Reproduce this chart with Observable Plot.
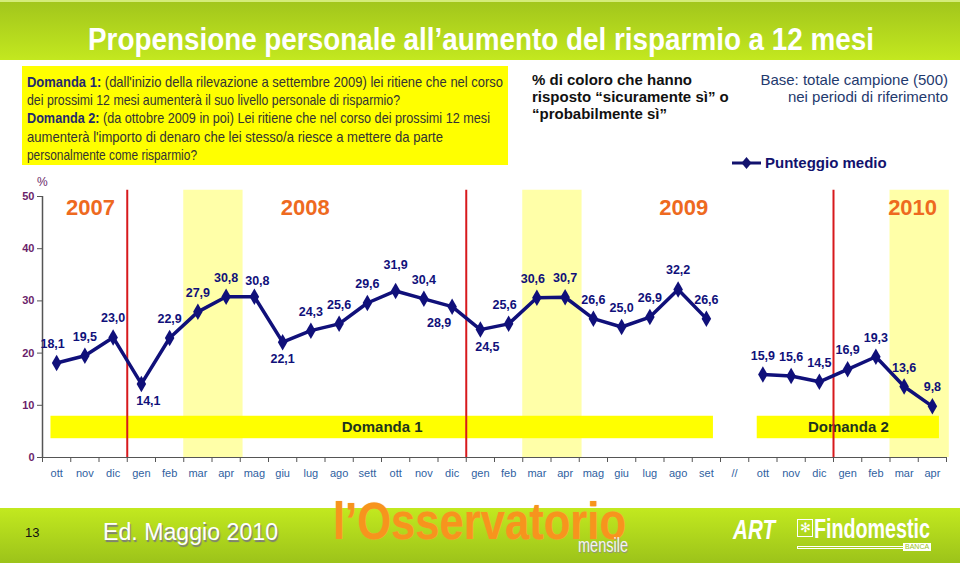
<!DOCTYPE html>
<html><head><meta charset="utf-8">
<script src="https://cdn.jsdelivr.net/npm/d3@7"></script>
<script src="https://cdn.jsdelivr.net/npm/@observablehq/plot@0.6"></script>
<style>
body{margin:0;background:#fff;font-family:"Liberation Sans",Arial,sans-serif;}
#page{position:relative;width:960px;height:566px;overflow:hidden;background:#fff;}
.abs{position:absolute;white-space:nowrap;}
.fit{display:inline-block;transform-origin:0 0;}
#header{left:0;top:0;width:960px;height:60px;background:linear-gradient(#a2c61c,#c3e81f);border-top:2px solid #d4ec7a;box-sizing:border-box;}
#title{left:88px;top:21px;color:#fff;font-weight:bold;font-size:32px;line-height:36px;}
#box{left:22px;top:66px;width:486px;height:99px;background:#ffff00;box-sizing:border-box;padding:7px 0 0 5px;font-size:15px;line-height:18.2px;color:#333;overflow:hidden;}
#box .ln{display:block;width:max-content;transform-origin:0 0;}
#box b{color:#1f2a6e;}
#pct{left:532px;top:71px;font-weight:bold;font-size:15px;line-height:17px;color:#111;}
#base{right:12px;top:71px;text-align:right;font-size:15px;line-height:17px;color:#1f3a6e;}
#legend{left:731px;top:154px;font-weight:bold;font-size:15px;color:#12126e;display:flex;align-items:center;}
#perc{left:37px;top:175px;font-size:12px;color:#6b2a6b;}
#chart{left:0;top:0;}
#footer{left:0;top:508px;width:960px;height:55px;background:linear-gradient(#c2e91f,#9cc31a);}
</style></head><body><div id="page">
<div id="header" class="abs"></div>
<div id="title" class="abs fit" data-w="786">Propensione personale all’aumento del risparmio a 12 mesi</div>
<div id="box" class="abs">
<span class="ln" data-w="476"><b>Domanda 1:</b> (dall'inizio della rilevazione a settembre 2009) lei ritiene che nel corso</span>
<span class="ln" data-w="373">dei prossimi 12 mesi aumenterà il suo livello personale di risparmio?</span>
<span class="ln" data-w="463"><b>Domanda 2:</b> (da ottobre 2009 in poi) Lei ritiene che nel corso dei prossimi 12 mesi</span>
<span class="ln" data-w="416">aumenterà l'importo di denaro che lei stesso/a riesce a mettere da parte</span>
<span class="ln" data-w="170">personalmente come risparmio?</span>
</div>
<div id="pct" class="abs">% di coloro che hanno<br>risposto “sicuramente sì” o<br>“probabilmente sì”</div>
<div id="base" class="abs">Base: totale campione (500)<br>nei periodi di riferimento</div>
<div id="legend" class="abs"><svg width="31" height="16" style="margin-right:3px"><line x1="1" y1="8" x2="30" y2="8" stroke="#12126e" stroke-width="3"/><path d="M15.5 2 L20.5 8 L15.5 14 L10.5 8 Z" fill="#12126e"/></svg>Punteggio medio</div>
<div id="perc" class="abs">%</div>
<div id="footer" class="abs"></div>
<div class="abs" style="left:25px;top:525px;font-size:13px;color:#111;">13</div>
<div class="abs fit" data-w="175" style="left:103px;top:519px;font-size:23px;color:#fff;text-shadow:1px 2px 1px #7a7a7a;">Ed. Maggio 2010</div>
<div class="abs fit" data-w="293" style="left:333px;top:504px;font-size:52px;font-weight:bold;color:#f7941d;text-shadow:0 0 1px #f5b04a;line-height:34px;">l’Osservatorio</div>
<div class="abs fit" data-w="50" style="left:578px;top:537px;font-size:21px;color:#f4f4f4;text-shadow:1px 1px 1px #8a8a8a;line-height:15px;">mensile</div>
<div class="abs fit" data-w="42" style="left:733px;top:514px;font-size:28px;font-weight:bold;font-style:italic;color:#fff;">ART</div>
<div class="abs" style="left:797px;top:519px;width:14px;height:16px;border:1px solid #fff;color:#fff;font-size:13px;line-height:16px;text-align:center;">✻</div>
<div class="abs fit" data-w="116" style="left:814px;top:514px;font-size:27px;font-weight:bold;color:#fff;line-height:30px;">Findomestic</div>
<div class="abs" style="left:797px;top:546px;width:133px;height:3px;border:1px solid #fff;box-sizing:border-box;"></div>
<div class="abs" style="left:903px;top:543px;font-size:7px;color:#9cc31a;background:#fff;padding:0 2px;line-height:8px;">BANCA</div>
<div id="chart" class="abs"></div>
</div>
<script>
// ---- data ----
const months = ["ott","nov","dic","gen","feb","mar","apr","mag","giu","lug","ago","sett","ott","nov","dic","gen","feb","mar","apr","mag","giu","lug","ago","set","//","ott","nov","dic","gen","feb","mar","apr"];
const domanda1 = [18.1,19.5,23.0,14.1,22.9,27.9,30.8,30.8,22.1,24.3,25.6,29.6,31.9,30.4,28.9,24.5,25.6,30.6,30.7,26.6,25.0,26.9,32.2,26.6];
const domanda2 = [15.9,15.6,14.5,16.9,19.3,13.6,9.8];
const domanda1Start = 0;
const domanda2Start = 25;
const labelSide1 = ["al","a","a","br","a","a","a","ar","b","a","a","a","aa","a","bl","br","al","al","a","a","a","a","a","a"];
const labelSide2 = ["a","a","a","a","a","a","a"];
const years = ["2007","2008","2009","2010"];
const yearStartMonths = [3,15,28];
const highlightMonths = [[5,6],[17,18],[30,31]];
const questions = [{label:"Domanda 1",from:0,to:23},{label:"Domanda 2",from:25,to:31}];
const yTicks = [0,10,20,30,40,50];

// ---- layout ----
const yearLabelX = [1.2,8.8,22.2,30.3];
const offsets = {a:[0,-19],aa:[0,-26],al:[-4,-19],ar:[3,-16],b:[0,17],br:[7,17],bl:[-13,16]};
const navy = "#10107a";

// fit condensed texts to the widths seen in the slide
document.querySelectorAll("[data-w]").forEach(el => {
  const w = el.getBoundingClientRect().width;
  const target = +el.dataset.w;
  if (w > 0) el.style.transform = `scaleX(${target / w})`;
});

const pts = [
  ...domanda1.map((v,k)=>({i:domanda1Start+k,v,q:"Domanda 1",side:labelSide1[k]})),
  ...domanda2.map((v,k)=>({i:domanda2Start+k,v,q:"Domanda 2",side:labelSide2[k]}))
];
const fmt = v => d3.format(".1f")(v).replace(".", ",");

const labelMarks = Object.keys(offsets).map(s => Plot.text(pts.filter(p=>p.side===s), {
  x:"i", y:"v", text:d=>fmt(d.v), dx:offsets[s][0], dy:offsets[s][1],
  fill:navy, fontWeight:"bold", fontSize:12.5
}));

const chart = Plot.plot({
  width:960, height:566,
  marginLeft:42, marginRight:14, marginTop:196, marginBottom:109,
  x:{type:"linear", domain:[-0.5,31.5]},
  y:{domain:[0,50]},
  style:{background:"transparent", fontFamily:"Liberation Sans, Arial, sans-serif", overflow:"visible"},
  marks:[
    Plot.rect(highlightMonths, {x1:d=>d[0]-0.5, x2:d=>d[1]+0.6, y1:0, y2:51.2, fill:"#ffffa8"}),
    Plot.rect(questions, {x1:d=>d.from-0.2, x2:d=>d.to+0.25, y1:3.6, y2:7.9, fill:"#ffff00"}),
    Plot.text(questions, {x:d=>(d.from-0.2+d.to+0.25)/2, y:5.75, text:"label", fill:"#1e331e", fontWeight:"bold", fontSize:15}),
    Plot.ruleX(yearStartMonths, {x:d=>d-0.5, y1:0, y2:51.2, stroke:"#d7191c", strokeWidth:2}),
    Plot.ruleY([0], {stroke:"#555"}),
    Plot.ruleX([-0.5], {y1:0, y2:50, stroke:"#555", strokeWidth:1.5}),
    Plot.axisY({ticks:yTicks, tickSize:5, tickPadding:3, tickFormat:d=>d, fill:"#6b1f6b", stroke:"#555", fontWeight:"bold", fontSize:11, label:null}),
    Plot.axisX({ticks:d3.range(-0.5,31.6,1), tickSize:5, tickFormat:()=>"", stroke:"#555", label:null}),
    Plot.axisX({ticks:d3.range(months.length), tickSize:0, tickPadding:12, tickFormat:i=>months[i], fill:"#2f5f9f", fontSize:11, label:null}),
    Plot.line(pts, {x:"i", y:"v", z:"q", stroke:navy, strokeWidth:3.5}),
    Plot.dot(pts, {x:"i", y:"v", symbol:"diamond", r:5, fill:navy}),
    ...labelMarks,
    Plot.text(years, {x:(d,i)=>yearLabelX[i], y:47.8, text:d=>d, fill:"#ee6a1f", fontWeight:"bold", fontSize:22})
  ]
});
document.getElementById("chart").appendChild(chart);
</script>
</body></html>
